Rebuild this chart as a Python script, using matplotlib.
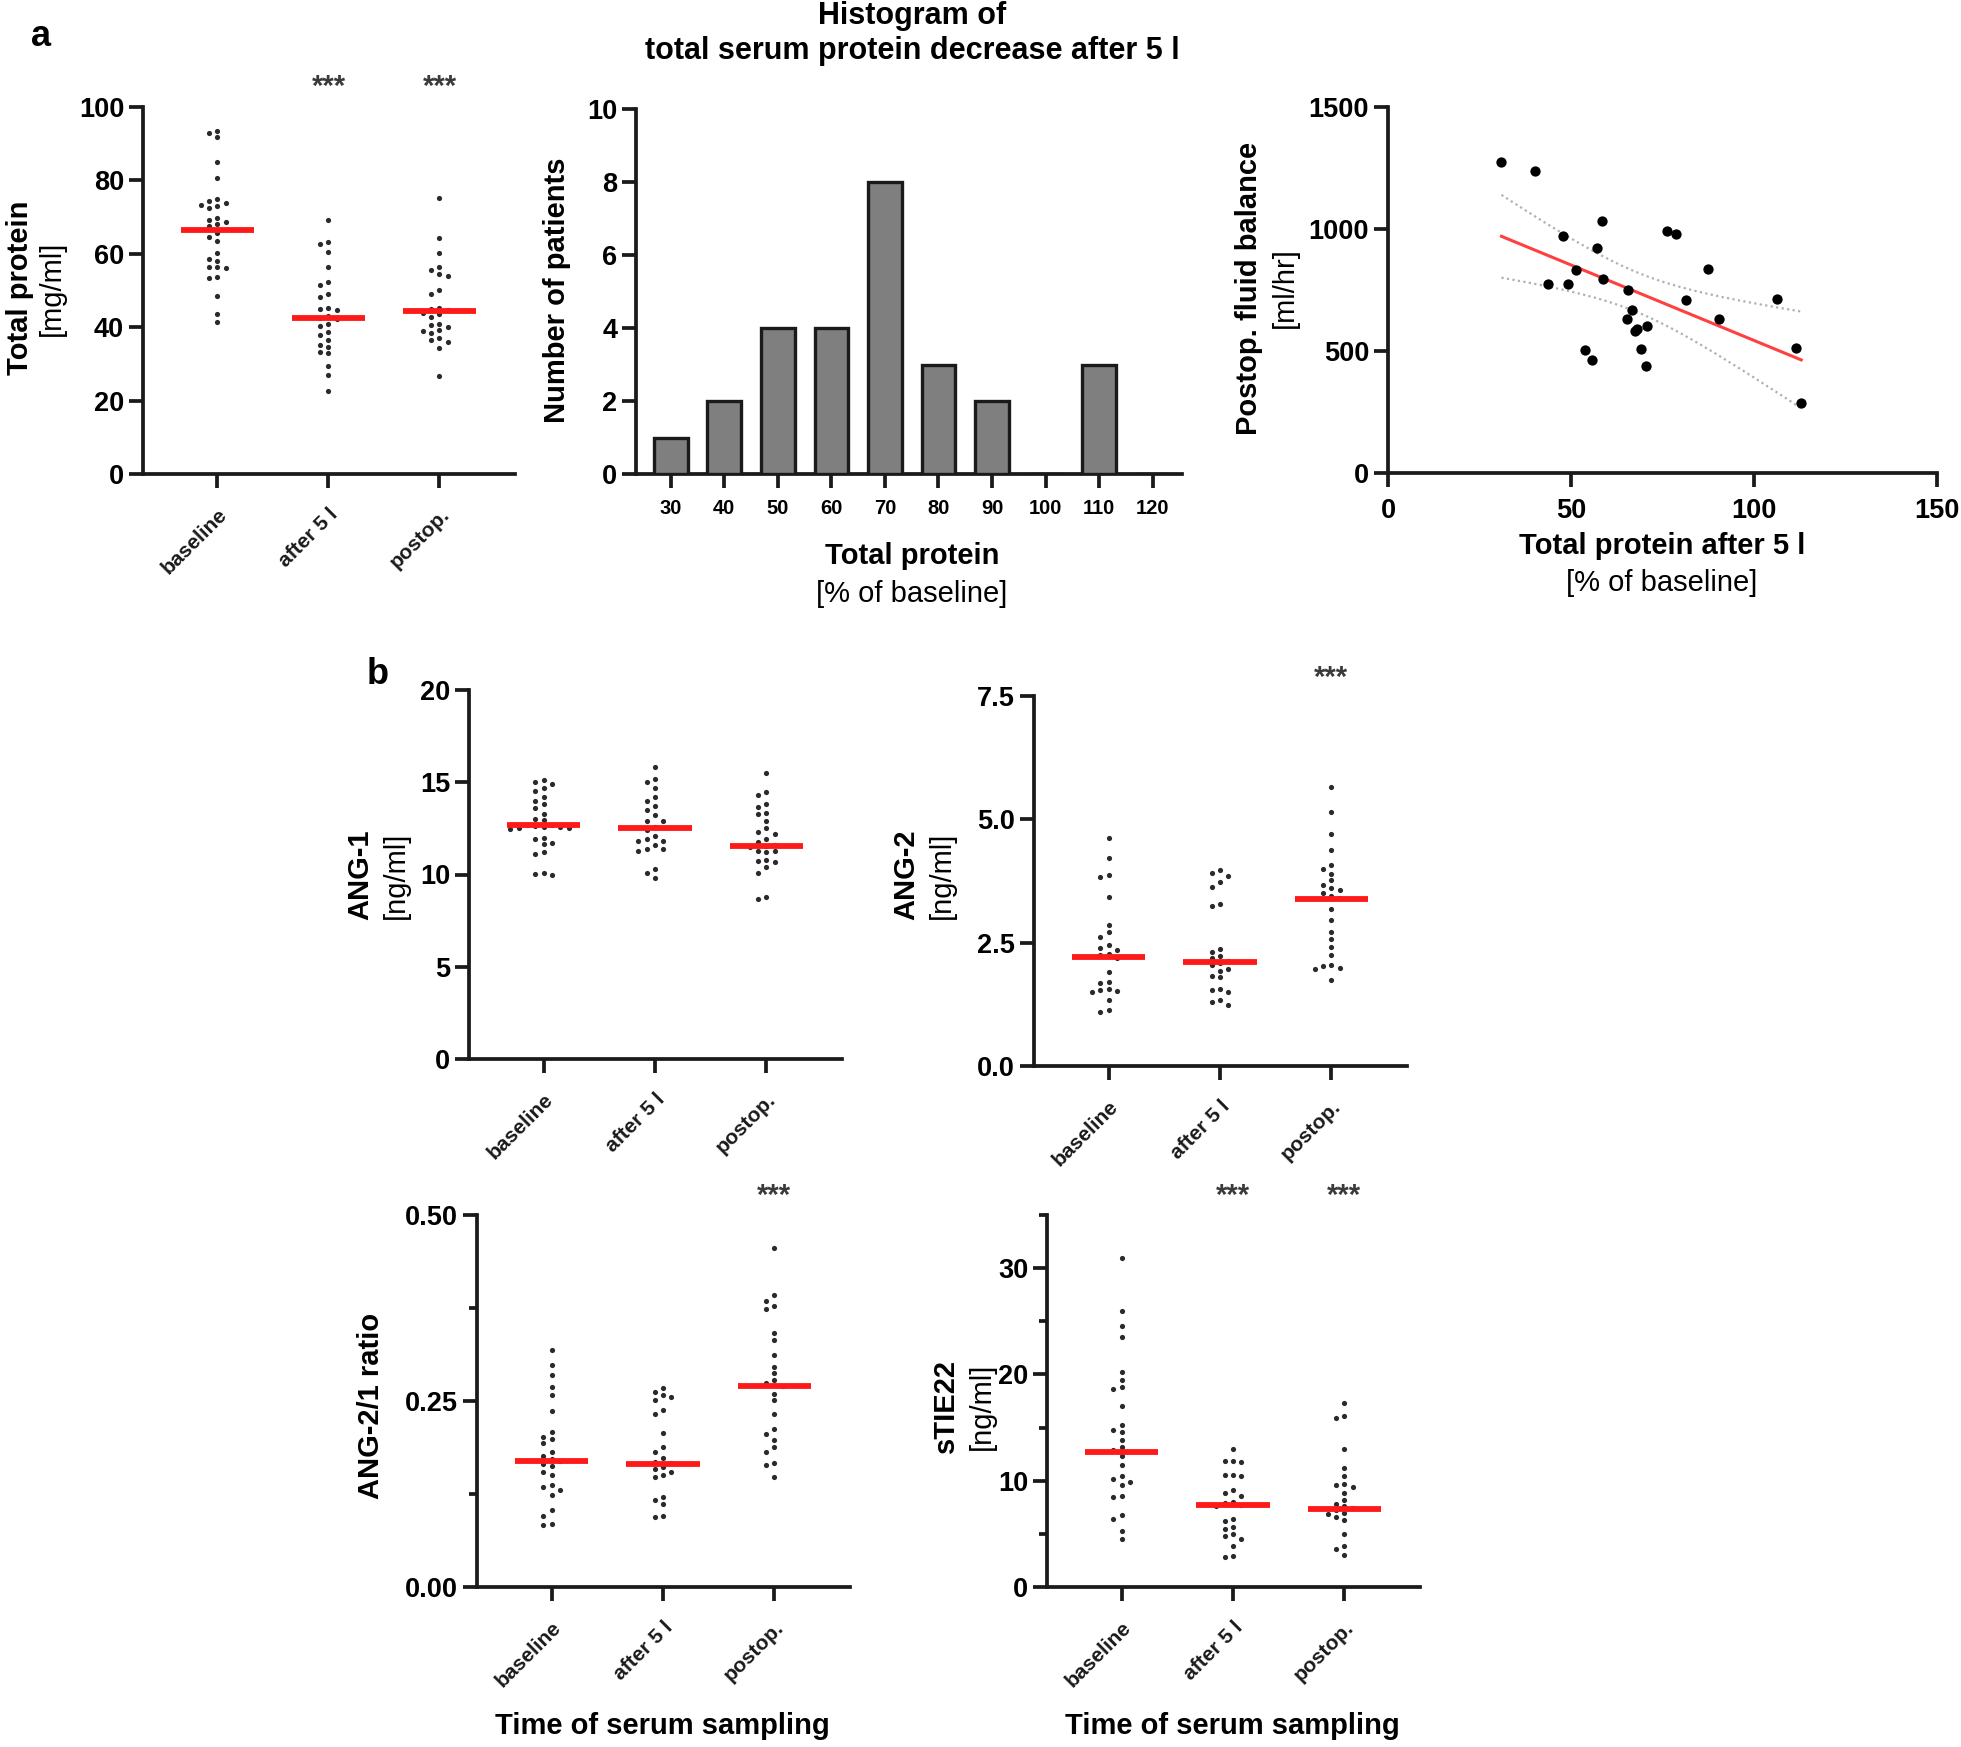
import numpy as np
import matplotlib
matplotlib.use("Agg")
import matplotlib.pyplot as plt
import matplotlib.transforms as mtransforms

plt.rcParams['font.family'] = ['Liberation Sans', 'DejaVu Sans']

# ---------------- data ----------------
groups = ["baseline", "after 5 l", "postop."]

tp_baseline = [93.5, 92.8, 91.8, 84.9, 80.6, 74.8, 74.3, 73.8, 73.2, 73.0, 72.4, 69.7, 69.3,
               68.8, 68.0, 67.6, 65.8, 64.6, 63.5, 60.1, 58.5, 58.0, 56.5, 56.3, 56.2, 53.8,
               53.5, 48.6, 43.7, 41.4]
tp_after = [69.1, 63.2, 62.8, 60.6, 56.5, 52.2, 51.4, 49.1, 48.2, 45.3, 45.0, 44.8, 43.0, 42.6,
            42.3, 41.0, 40.2, 38.7, 37.8, 36.5, 35.1, 34.7, 33.3, 32.9, 29.3, 27.0, 22.5]
tp_postop = [75.2, 64.4, 60.1, 56.5, 55.6, 54.5, 54.0, 50.2, 49.1, 45.3, 45.0, 44.6, 43.9,
             43.5, 42.8, 41.0, 40.5, 40.1, 39.2, 38.9, 38.3, 37.0, 36.5, 36.0, 34.2, 26.8]
tp_median = [66.4, 42.6, 44.3]

hist_bins = [30, 40, 50, 60, 70, 80, 90, 100, 110, 120]
hist_counts = [1, 2, 4, 4, 8, 3, 2, 0, 3, 0]

sc_protein = [31.0, 40.2, 47.9, 51.4, 43.6, 49.2, 57.0, 58.6, 58.8, 53.8, 55.7, 65.7, 66.6,
              65.3, 67.6, 67.9, 70.8, 69.1, 70.6, 76.1, 78.7, 81.4, 87.3, 90.5, 106.2, 111.6,
              112.9]
sc_balance = [1273, 1239, 971, 834, 776, 774, 922, 1033, 795, 503, 465, 750, 666, 630, 580,
              590, 603, 510, 440, 990, 981, 709, 836, 633, 713, 512, 288]

ang1_baseline = [15.1, 15.0, 14.9, 14.7, 14.5, 14.2, 14.0, 13.8, 13.6, 13.3, 13.0, 12.95, 12.7,
                 12.7, 12.65, 12.6, 12.6, 12.5, 12.5, 12.45, 12.0, 11.95, 11.7, 11.65, 11.2,
                 11.1, 10.1, 10.05, 10.0]
ang1_after = [15.8, 15.2, 15.0, 14.7, 14.2, 14.0, 13.7, 13.5, 13.2, 12.9, 12.9, 12.6, 12.4,
              12.1, 11.9, 11.8, 11.8, 11.6, 11.4, 11.4, 11.3, 10.3, 10.1, 9.8]
ang1_postop = [15.5, 14.45, 14.3, 13.8, 13.65, 13.35, 13.3, 12.9, 12.5, 12.3, 12.2, 11.9, 11.75,
               11.6, 11.55, 11.5, 11.3, 11.25, 11.2, 10.8, 10.75, 10.7, 10.4, 10.1, 8.8, 8.65]
ang1_median = [12.68, 12.5, 11.56]

ang2_baseline = [4.62, 4.22, 3.87, 3.83, 3.43, 2.85, 2.72, 2.62, 2.45, 2.40, 2.35, 2.28, 2.25,
                 2.18, 1.90, 1.70, 1.68, 1.57, 1.55, 1.53, 1.50, 1.33, 1.13, 1.10]
ang2_after = [3.97, 3.92, 3.85, 3.72, 3.62, 3.29, 3.24, 2.38, 2.31, 2.22, 2.18, 2.12, 2.08, 2.05,
              1.97, 1.93, 1.82, 1.80, 1.57, 1.55, 1.50, 1.33, 1.30, 1.23]
ang2_postop = [5.65, 5.15, 4.71, 4.37, 4.07, 4.00, 3.90, 3.77, 3.66, 3.60, 3.56, 3.50, 3.45,
               3.40, 3.19, 2.95, 2.72, 2.58, 2.41, 2.24, 2.04, 2.02, 1.99, 1.97, 1.74]
ang2_median = [2.21, 2.11, 3.39]

ratio_baseline = [0.319, 0.298, 0.285, 0.269, 0.258, 0.237, 0.209, 0.202, 0.199, 0.193, 0.182,
                  0.176, 0.172, 0.170, 0.165, 0.162, 0.155, 0.150, 0.137, 0.135, 0.130, 0.123,
                  0.103, 0.096, 0.085, 0.083]
ratio_after = [0.267, 0.262, 0.258, 0.255, 0.251, 0.238, 0.233, 0.207, 0.188, 0.182, 0.173,
               0.168, 0.166, 0.161, 0.159, 0.155, 0.150, 0.148, 0.121, 0.117, 0.112, 0.096, 0.094]
ratio_postop = [0.456, 0.392, 0.385, 0.378, 0.374, 0.341, 0.332, 0.312, 0.296, 0.287, 0.278,
                0.274, 0.270, 0.260, 0.251, 0.233, 0.213, 0.205, 0.197, 0.188, 0.182, 0.166,
                0.164, 0.148]
ratio_median = [0.170, 0.165, 0.270]

tie_baseline = [31.0, 26.0, 24.6, 23.5, 20.2, 19.5, 18.8, 18.6, 17.0, 15.2, 14.8, 14.6, 13.8,
                13.2, 12.9, 12.3, 11.5, 10.4, 10.2, 9.9, 9.6, 8.6, 8.5, 6.75, 6.44, 5.3, 4.55]
tie_after = [13.0, 11.9, 11.85, 11.8, 10.5, 10.5, 10.45, 9.1, 8.8, 8.6, 8.0, 7.9, 7.7, 7.6, 6.4,
             6.2, 5.65, 5.5, 5.0, 4.8, 4.55, 3.9, 2.9, 2.8]
tie_postop = [17.3, 16.1, 15.9, 13.0, 11.15, 10.4, 9.7, 9.6, 9.4, 8.8, 8.2, 7.8, 7.6, 7.4, 7.2,
              7.0, 6.9, 6.6, 6.3, 5.0, 3.9, 3.6, 3.0]
tie_median = [12.7, 7.7, 7.3]

# ---------------- figure ----------------
W, H = 1961, 1747
fig = plt.figure(figsize=(W / 100, H / 100), dpi=100)

AX_LW = 2.7
TICK_FS = 19.5
LABEL_FS = 21


def add_ax(left, right, top, bottom):
    return fig.add_axes([left / W, 1 - bottom / H, (right - left) / W, (bottom - top) / H])


def ftext(x, y, s, **kw):
    fig.text(x / W, 1 - y / H, s, **kw)


def style(ax):
    for sp in ['top', 'right']:
        ax.spines[sp].set_visible(False)
    for sp in ['left', 'bottom']:
        ax.spines[sp].set_linewidth(AX_LW)
        ax.spines[sp].set_color('#1a1a1a')
    ax.tick_params(axis='both', which='major', length=10, width=AX_LW, color='#1a1a1a',
                   labelsize=TICK_FS)
    ax.tick_params(axis='both', which='minor', length=6, width=AX_LW, color='#1a1a1a')
    for lab in ax.get_yticklabels():
        lab.set_fontweight('bold')


def swarm_x(vals, center, dy, dx):
    vals = np.asarray(vals, dtype=float)
    order = np.argsort(-vals)
    xs = np.zeros(len(vals))
    placed = []
    for i in order:
        v = vals[i]
        for k in [0, -1, 1, -2, 2, -3, 3, -4, 4]:
            x = k * dx
            ok = True
            for (px, py) in placed:
                if abs(py - v) < dy and abs(px - x) < dx * 0.9:
                    ok = False
                    break
            if ok:
                break
        placed.append((x, v))
        xs[i] = center + x
    return xs


def dotplot(ax, series, medians, ylim, yticks, yminor=None, yfmt=None, stars=None, star_y=1.05):
    style(ax)
    rng = ylim[1] - ylim[0]
    for i, vals in enumerate(series):
        xs = swarm_x(vals, i, dy=rng * 0.017, dx=0.075)
        ax.scatter(xs, vals, s=14, color='#2a2a2a', zorder=3, linewidths=0)
        ax.plot([i - 0.33, i + 0.33], [medians[i], medians[i]], color='#ff1a1a', lw=4.2,
                solid_capstyle='butt', zorder=4)
    ax.set_xlim(-0.67, 2.68)
    ax.set_ylim(*ylim)
    ax.set_yticks(yticks)
    if yfmt:
        ax.set_yticklabels([yfmt.format(t) for t in yticks])
    if yminor is not None:
        ax.set_yticks(yminor, minor=True)
    ax.set_xticks(range(len(groups)))
    ax.set_xticklabels(groups, rotation=45, ha='right', va='top', rotation_mode='anchor',
                       fontsize=15, fontweight='bold', color='#1a1a1a')
    ax.tick_params(axis='x', pad=12)
    for lab in ax.get_yticklabels():
        lab.set_fontweight('bold')
    if stars:
        tr = mtransforms.blended_transform_factory(ax.transData, ax.transAxes)
        for i in stars:
            ax.text(i, star_y, '***', transform=tr, ha='center', va='center', fontsize=21,
                    fontweight='bold', color='#3a3a3a')


# ---- panel a: total protein dot plot ----
ax1 = add_ax(143, 515, 107, 474)
dotplot(ax1, [tp_baseline, tp_after, tp_postop], tp_median, (0, 100), [0, 20, 40, 60, 80, 100],
        stars=[1, 2], star_y=1.055)
ftext(20, 288, 'Total protein', rotation=90, ha='center', va='center', fontsize=LABEL_FS,
      fontweight='bold')
ftext(52, 288, '[mg/ml]', rotation=90, ha='center', va='center', fontsize=LABEL_FS)

# ---- panel a: histogram ----
ax2 = add_ax(636, 1182, 109, 474)
style(ax2)
ax2.bar(hist_bins, hist_counts, width=6.3, color='#7f7f7f', edgecolor='#1a1a1a', linewidth=2.4,
        zorder=3)
ax2.set_xlim(23.5, 125.5)
ax2.set_ylim(0, 10)
ax2.set_yticks([0, 2, 4, 6, 8, 10])
ax2.set_xticks(hist_bins)
ax2.set_xticklabels([str(b) for b in hist_bins], fontsize=14.5, fontweight='bold')
ax2.tick_params(axis='x', pad=8)
for lab in ax2.get_yticklabels():
    lab.set_fontweight('bold')
ftext(557, 290, 'Number of patients', rotation=90, ha='center', va='center', fontsize=LABEL_FS,
      fontweight='bold')
ftext(912, 556, 'Total protein', ha='center', va='center', fontsize=LABEL_FS, fontweight='bold')
ftext(912, 594, '[% of baseline]', ha='center', va='center', fontsize=LABEL_FS)
ftext(912, 16, 'Histogram of', ha='center', va='center', fontsize=22, fontweight='bold')
ftext(912, 51, 'total serum protein decrease after 5 l', ha='center', va='center', fontsize=22,
      fontweight='bold')

# ---- panel a: scatter with regression ----
ax3 = add_ax(1388, 1937, 107, 473)
style(ax3)
xp = np.asarray(sc_protein, float)
yp = np.asarray(sc_balance, float)
ax3.scatter(xp, yp, s=55, color='black', zorder=3, linewidths=0)
slope, intercept = np.polyfit(xp, yp, 1)
xx = np.linspace(xp.min(), xp.max(), 200)
yy = slope * xx + intercept
n = len(xp)
resid = yp - (slope * xp + intercept)
s_err = np.sqrt(np.sum(resid ** 2) / (n - 2))
sxx = np.sum((xp - xp.mean()) ** 2)
t_val = 2.06
band = t_val * s_err * np.sqrt(1 / n + (xx - xp.mean()) ** 2 / sxx)
ax3.plot(xx, yy, color='#ff4040', lw=2.2, zorder=2)
ax3.plot(xx, yy + band, color='#b0b0b0', lw=1.6, ls=(0, (1, 1.5)), zorder=2)
ax3.plot(xx, yy - band, color='#b0b0b0', lw=1.6, ls=(0, (1, 1.5)), zorder=2)
ax3.set_xlim(0, 150)
ax3.set_ylim(0, 1500)
ax3.set_xticks([0, 50, 100, 150])
ax3.set_yticks([0, 500, 1000, 1500])
for lab in ax3.get_xticklabels() + ax3.get_yticklabels():
    lab.set_fontweight('bold')
ax3.tick_params(axis='x', pad=8)
ftext(1249, 288, 'Postop. fluid balance', rotation=90, ha='center', va='center',
      fontsize=LABEL_FS, fontweight='bold')
ftext(1285, 288, '[ml/hr]', rotation=90, ha='center', va='center', fontsize=LABEL_FS)
ftext(1662, 546, 'Total protein after 5 l', ha='center', va='center', fontsize=LABEL_FS,
      fontweight='bold')
ftext(1662, 583, '[% of baseline]', ha='center', va='center', fontsize=LABEL_FS)

# ---- panel b ----
ax4 = add_ax(469, 842, 690, 1059)
dotplot(ax4, [ang1_baseline, ang1_after, ang1_postop], ang1_median, (0, 20), [0, 5, 10, 15, 20])
ftext(360, 875, 'ANG-1', rotation=90, ha='center', va='center', fontsize=LABEL_FS,
      fontweight='bold')
ftext(396, 875, '[ng/ml]', rotation=90, ha='center', va='center', fontsize=LABEL_FS)

ax5 = add_ax(1034, 1407, 696, 1066)
dotplot(ax5, [ang2_baseline, ang2_after, ang2_postop], ang2_median, (0, 7.5),
        [0, 2.5, 5.0, 7.5], yfmt='{:.1f}', stars=[2], star_y=1.05)
ftext(906, 875, 'ANG-2', rotation=90, ha='center', va='center', fontsize=LABEL_FS,
      fontweight='bold')
ftext(942, 875, '[ng/ml]', rotation=90, ha='center', va='center', fontsize=LABEL_FS)

ax6 = add_ax(477, 850, 1215, 1587)
dotplot(ax6, [ratio_baseline, ratio_after, ratio_postop], ratio_median, (0, 0.5),
        [0, 0.25, 0.5], yminor=[0.125, 0.375], yfmt='{:.2f}', stars=[2], star_y=1.05)
ftext(371, 1406, 'ANG-2/1 ratio', rotation=90, ha='center', va='center', fontsize=LABEL_FS,
      fontweight='bold')

ax7 = add_ax(1047, 1420, 1215, 1587)
dotplot(ax7, [tie_baseline, tie_after, tie_postop], tie_median, (0, 35), [0, 10, 20, 30],
        yminor=[5, 15, 25, 35], stars=[1, 2], star_y=1.05)
ftext(946, 1406, 'sTIE22', rotation=90, ha='center', va='center', fontsize=LABEL_FS,
      fontweight='bold')
ftext(982, 1406, '[ng/ml]', rotation=90, ha='center', va='center', fontsize=LABEL_FS)

ftext(662, 1726, 'Time of serum sampling', ha='center', va='center', fontsize=LABEL_FS,
      fontweight='bold')
ftext(1232, 1726, 'Time of serum sampling', ha='center', va='center', fontsize=LABEL_FS,
      fontweight='bold')

ftext(41, 37, 'a', ha='center', va='center', fontsize=26, fontweight='bold')
ftext(378, 674, 'b', ha='center', va='center', fontsize=26, fontweight='bold')

fig.savefig('out.png', dpi=100)
